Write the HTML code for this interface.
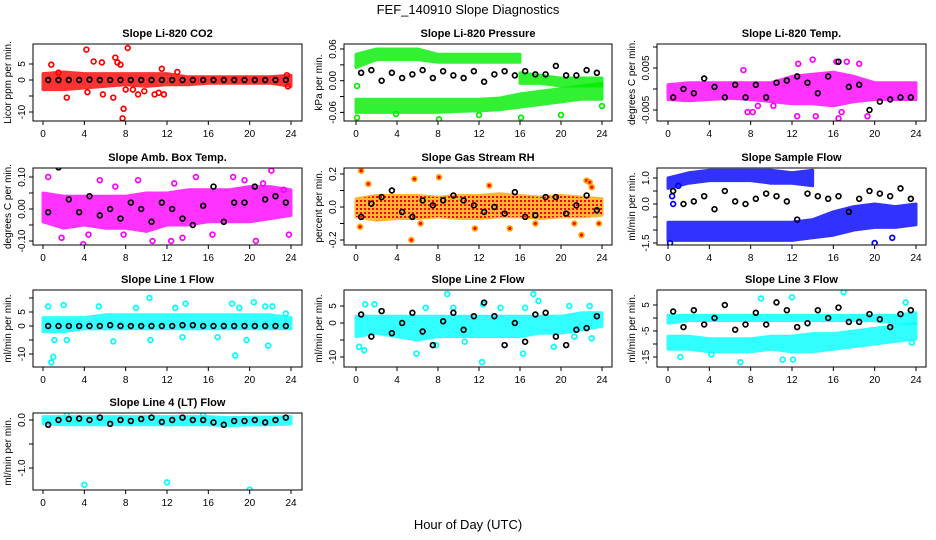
<!DOCTYPE html>
<html><head><meta charset="utf-8">
<style>
html,body{margin:0;padding:0;background:#fff;}
svg{display:block;font-family:"Liberation Sans",Arial,sans-serif;}
</style></head>
<body>
<svg id="fig" width="936" height="540" viewBox="0 0 936 540">
<text x="468" y="14" text-anchor="middle" font-size="13">FEF_140910  Slope Diagnostics</text>
<text x="468" y="529" text-anchor="middle" font-size="13">Hour of Day (UTC)</text>
</svg>
<script>
// ---- shared data ----
const bandHours = [0,2,4,6,8,10,12,14,16,18,20,22,24];
const blkHours = [0.5,1.5,2.5,3.5,4.5,5.5,6.5,7.5,8.5,9.5,10.5,11.5,12.5,13.5,14.5,15.5,16.5,17.5,18.5,19.5,20.5,21.5,22.5,23.5];
const xTicks = [0,4,8,12,16,20,24];

// Panel 1: CO2
const co2Lo = [-3,-3,-2.5,-2,-1.5,-2,-1.5,-1.5,-1,-1,-1,-1,-2];
const co2Hi = [2,2.5,2,2,2,2,2,1,1,1,1,1,1.5];
const co2OutH = [0.8,1.5,2.3,4.2,4.3,4.9,5.7,5.8,6.8,7,7.2,7.5,7.7,7.8,8,8.2,8.7,9.2,9.8,10.8,11.2,11.5,11.7,13,23.6,23.7];
const co2OutV = [4.8,2.3,-5.5,9.5,-3.8,5.8,5.5,-4.5,-5.5,7,5.5,4.8,-12,-9,-3,10,-3,-4.5,-3.5,-4.5,-4,3.5,-4.5,2.5,1.5,-2];
const co2Blk = [0,0,0,0,0.1,0,0,0,0,0,0,0,0,0,0,0,0,0,0,0,0,0,0,0];

// Panel 2: Pressure
const presALo = [0.025,0.04,0.04,0.04,0.035,0.035,0.035,0.035,0.035,null,null,null,null];
const presAHi = [0.05,0.06,0.06,0.06,0.05,0.05,0.05,0.05,0.05,null,null,null,null];
const presCLo = [null,null,null,null,null,null,null,null,-0.005,-0.005,-0.01,-0.01,-0.01];
const presCHi = [null,null,null,null,null,null,null,null,0.015,0.01,0.005,0.005,0.005];
const presBLo = [-0.06,-0.06,-0.06,-0.06,-0.06,-0.058,-0.057,-0.055,-0.05,-0.045,-0.04,-0.035,-0.035];
const presBHi = [-0.035,-0.035,-0.035,-0.035,-0.035,-0.035,-0.035,-0.033,-0.025,-0.02,-0.015,-0.01,-0.005];
const presOutH = [0.1,0.1,3.9,8.1,12,16.1,20,24];
const presOutV = [-0.01,-0.07,-0.063,-0.073,-0.065,-0.07,-0.065,-0.048];
const presBlk = [0.015,0.02,0.0,0.015,0.005,0.012,0.02,0.005,0.018,0.01,0.005,0.018,-0.002,0.012,0.018,0.01,0.018,0.012,0.012,0.028,0.01,0.01,0.02,0.015];

// Panel 3: Li-820 Temp
const tmpLo = [-0.0025,-0.0028,-0.0025,-0.0022,-0.0025,-0.003,-0.0035,-0.0035,-0.004,-0.003,-0.0025,-0.0025,-0.0025];
const tmpHi = [0.001,0.0015,0.0015,0.0015,0.0015,0.0015,0.003,0.0035,0.004,0.003,0.0015,0.0015,0.0015];
const tmpOutH = [7.3,7.7,8.2,8.7,10.2,12.5,12.6,14,14.3,16.3,16.5,16.8,17.3,18.5,19.3];
const tmpOutV = [0.0045,-0.0055,-0.0055,-0.004,-0.004,-0.0065,0.006,0.007,-0.0065,0.0065,-0.007,-0.0055,0.0065,0.006,-0.0065];
const tmpBlk = [-0.002,0.0,-0.001,0.0025,0.0005,-0.002,0.001,-0.002,0.001,-0.002,0.0015,0.002,0.003,0.0015,-0.001,0.003,0.0065,0.0005,0.001,-0.005,-0.003,-0.0025,-0.002,-0.002];

// Panel 4: Amb Box Temp
const ambLo = [-0.04,-0.06,-0.05,-0.06,-0.06,-0.07,-0.05,-0.05,-0.04,-0.04,-0.04,-0.03,-0.02];
const ambHi = [0.05,0.04,0.04,0.04,0.04,0.05,0.05,0.06,0.06,0.06,0.07,0.07,0.06];
const ambOutH = [0.5,1.8,3.9,4.4,5.5,7,7.8,9.2,10.6,11.3,12.4,12.7,13.5,14.8,16.4,18.4,19.5,20.6,21.3,22.1,23.3,23.8];
const ambOutV = [0.1,-0.09,-0.11,-0.08,0.09,0.07,-0.08,0.09,-0.1,-0.13,-0.1,0.08,-0.09,0.1,-0.08,0.1,0.09,-0.1,0.08,0.12,0.06,-0.08];
const ambBlk = [-0.01,0.13,0.03,-0.01,0.04,-0.02,0.0,-0.03,0.02,0.0,-0.04,0.02,0.0,-0.03,-0.05,0.01,0.07,-0.04,0.02,0.02,0.07,0.03,0.04,0.02];

// Panel 5: Gas Stream RH
const rhLo = [-0.06,-0.08,-0.07,-0.07,-0.06,-0.07,-0.07,-0.06,-0.06,-0.07,-0.06,-0.06,-0.05];
const rhHi = [0.05,0.07,0.07,0.07,0.06,0.07,0.07,0.08,0.07,0.06,0.07,0.06,0.05];
const rhOutH = [0.5,0.4,1.2,5.4,5.7,6.3,8.1,11.6,13,15,17.5,21.3,22,22.5,22.8,23,23.7];
const rhOutV = [0.22,-0.12,0.14,-0.2,0.17,-0.1,0.18,-0.13,0.13,-0.13,-0.1,-0.1,-0.17,0.16,0.15,0.12,-0.1];
const rhBlk = [-0.06,0.02,0.06,0.1,-0.03,-0.06,0.04,0.01,0.04,0.07,0.04,0.01,-0.03,0.0,-0.04,0.09,-0.06,-0.05,0.06,0.06,-0.04,0.01,0.07,-0.02];

// Panel 6: Sample Flow
const sfALo = [0.6,0.8,0.9,0.9,0.9,0.8,0.8,0.7,null,null,null,null,null];
const sfAHi = [1.0,1.2,1.3,1.3,1.3,1.3,1.2,1.3,null,null,null,null,null];
const sfBLo = [-1.4,-1.4,-1.4,-1.4,-1.4,-1.4,-1.4,-1.3,-1.2,-1.0,-0.9,-0.9,-0.8];
const sfBHi = [-0.7,-0.7,-0.7,-0.7,-0.7,-0.7,-0.7,-0.6,-0.3,-0.1,0.0,-0.1,0.0];
const sfOutH = [4,12,20,0.2,0.5,21.7,0.4,1.0];
const sfOutV = [-1.75,-1.75,-1.5,-1.5,0.0,-1.3,0.3,0.7];
const sfBlk = [0.5,0.0,0.1,0.3,-0.2,0.5,0.1,0.0,0.2,0.4,0.3,0.1,-0.6,0.4,0.3,0.2,0.3,-0.3,0.2,0.5,0.4,0.3,0.6,0.2];

// Panel 7: Line 1 Flow
const l1Lo = [-2,-2,-1,-1,-1,-1,-1,-1,-1,-1,-1,-1,-1];
const l1Hi = [3,3,3,4,4,4,4,4,4,4,4,4,3];
const l1OutH = [0.8,1,1.1,0.5,2,2.3,5.4,6.8,9,10.3,10.4,12.8,13.5,13.8,16.9,18.3,18.6,19,19.7,20.4,21.5,21.8,22.2,23.5];
const l1OutV = [-13,-11,-5,7,7.5,-5,7,-5.5,6.5,10,-5,6.5,-4,8,-4,8,-10.5,6.5,-5,8.5,7,-7,7,4.5];
const l1Blk = [0,0,0,0,0,0,0.3,0,0,0,0,0,0,0.3,0.3,0,0,0,0,0,0,0,0,0];

// Panel 8: Line 2 Flow
const l2Lo = [-4,-3,-4,-5,-4,-4,-4,-4,-4,-3,-3,-2,-1];
const l2Hi = [2,2,2,2,2,2,2,2,2,2,2,3,3];
const l2OutH = [0.3,0.8,0.9,1.8,5.9,6.8,7.8,8.9,9.5,10.6,12.3,12.4,14.1,16.3,16.5,17.3,17.8,19.3,20.8,21.3,22.8,23];
const l2OutV = [-7,-8,5.5,5.5,-9,4.5,-6.5,8.5,4.5,-5.5,-11.5,5.5,4.5,-9,4.5,8.5,6.5,-7,5,-4,5,-4.5];
const l2Blk = [2.5,-4,3.5,-3,0,3,-2.5,-6.5,0.5,3,-2,2,6,2,-6.5,0,-5.5,2.5,3,-4,-6.5,-2,-1.5,2];

// Panel 9: Line 3 Flow
const l3ALo = [-2,-1,-1,-1,-1,-1,-1,-1,-1,-1,-1,-2,-2];
const l3AHi = [1,1,1,1,1,1,1,1,1,1,1,1,2];
const l3BLo = [-12,-12,-13,-13,-13,-12,-13,-13,-12,-11,-10,-9,-8];
const l3BHi = [-7,-7,-8,-8,-8,-7,-7,-6,-6,-5,-4,-3,-2];
const l3OutH = [1.2,4.2,7,9,11.1,12,12.1,17,23,23.6];
const l3OutV = [-15,-14,-17,7.5,-16,8,-16,10,6,-9.5];
const l3Blk = [2.5,-3.5,3,-2.5,0,5,-4.5,-2.5,2,-2.5,6,3,-3.5,-2,3,0,4,-1.5,-1.5,1.5,-0.5,-3.5,1.5,3];

// Panel 10: Line 4 (LT) Flow
const l4Lo = [-0.08,-0.1,-0.1,-0.1,-0.1,-0.1,-0.1,-0.1,-0.1,-0.12,-0.1,-0.1,-0.08];
const l4Hi = [0.07,0.07,0.07,0.07,0.07,0.07,0.07,0.07,0.07,0.05,0.06,0.06,0.07];
const l4OutH = [4,12,20,2.3,15.5];
const l4OutV = [-1.35,-1.3,-1.45,0.1,0.1];
const l4Blk = [-0.1,0.0,0.02,0.03,0.0,0.05,-0.08,0.0,-0.02,0.02,0.05,-0.04,0.0,0.05,0.0,0.0,-0.05,-0.1,-0.02,-0.02,0.0,-0.05,0.0,0.05];

// ---- layout ----
const cols = [{bx0:33,bx1:302,h0:43,h24:291},{bx0:344,bx1:612,h0:356,h24:602},{bx0:657,bx1:926,h0:668,h24:916}];
const rowTops = [44,168,290,413];
const BOXH = 77;

const panels = [
 {r:0,c:0,title:"Slope Li-820 CO2",ylab:"Licor ppm per min.",color:"#ff0000",va:0,pa:80,vb:5,pb:64,ticks:[5,0,-5,-10],labels:["5","0","","-10"],bands:[[co2Lo,co2Hi]],oh:co2OutH,ov:co2OutV,blk:co2Blk},
 {r:0,c:1,title:"Slope Li-820 Pressure",ylab:"kPa per min.",color:"#00ee00",va:0,pa:80.7,vb:0.06,pb:49,ticks:[0.06,0.03,0,-0.03,-0.06],labels:["0.06","","0.00","","-0.06"],bands:[[presALo,presAHi],[presCLo,presCHi],[presBLo,presBHi]],oh:presOutH,ov:presOutV,blk:presBlk},
 {r:0,c:2,title:"Slope Li-820 Temp.",ylab:"degrees C per min.",color:"#ff00ff",va:0,pa:89,vb:0.005,pb:68,ticks:[0.01,0.005,0,-0.005],labels:["","0.005","","-0.005"],bands:[[tmpLo,tmpHi]],oh:tmpOutH,ov:tmpOutV,blk:tmpBlk},
 {r:1,c:0,title:"Slope Amb. Box Temp.",ylab:"degrees C per min.",color:"#ff00ff",va:0,pa:209,vb:0.1,pb:177,ticks:[0.1,0.05,0,-0.05,-0.1],labels:["0.10","","0.00","","-0.10"],bands:[[ambLo,ambHi]],oh:ambOutH,ov:ambOutV,blk:ambBlk},
 {r:1,c:1,title:"Slope Gas Stream RH",ylab:"percent per min.",color:"#ffa500",core:"#ff0000",va:0,pa:207,vb:0.2,pb:174,ticks:[0.2,0.1,0,-0.1,-0.2],labels:["0.2","","0.0","","-0.2"],bands:[[rhLo,rhHi]],oh:rhOutH,ov:rhOutV,blk:rhBlk},
 {r:1,c:2,title:"Slope Sample Flow",ylab:"ml/min per min.",color:"#0000ff",va:0,pa:204,vb:1,pb:178,ticks:[1,0.5,0,-0.5,-1,-1.5],labels:["1.0","","0.0","","","-1.5"],bands:[[sfALo,sfAHi],[sfBLo,sfBHi]],oh:sfOutH,ov:sfOutV,blk:sfBlk},
 {r:2,c:0,title:"Slope Line 1 Flow",ylab:"ml/min per min.",color:"#00ffff",va:0,pa:326,vb:5,pb:312,ticks:[10,5,0,-5,-10],labels:["","5","0","","-10"],bands:[[l1Lo,l1Hi]],oh:l1OutH,ov:l1OutV,blk:l1Blk},
 {r:2,c:1,title:"Slope Line 2 Flow",ylab:"ml/min per min.",color:"#00ffff",va:0,pa:323,vb:5,pb:306,ticks:[5,0,-5,-10],labels:["5","0","","-10"],bands:[[l2Lo,l2Hi]],oh:l2OutH,ov:l2OutV,blk:l2Blk},
 {r:2,c:2,title:"Slope Line 3 Flow",ylab:"ml/min per min.",color:"#00ffff",va:0,pa:318,vb:5,pb:305,ticks:[5,0,-5,-10,-15],labels:["5","","-5","","-15"],bands:[[l3ALo,l3AHi],[l3BLo,l3BHi]],oh:l3OutH,ov:l3OutV,blk:l3Blk},
 {r:3,c:0,title:"Slope Line 4 (LT) Flow",ylab:"ml/min per min.",color:"#00ffff",va:0,pa:420,vb:-1,pb:468,ticks:[0,-0.5,-1],labels:["0.0","","-1.0"],bands:[[l4Lo,l4Hi]],oh:l4OutH,ov:l4OutV,blk:l4Blk}
];

const NS = "http://www.w3.org/2000/svg";
const svg = document.getElementById("fig");
function mk(tag, attrs, parent){
  const e = document.createElementNS(NS, tag);
  for (const k in attrs) e.setAttribute(k, attrs[k]);
  (parent||svg).appendChild(e);
  return e;
}

panels.forEach((p, i) => {
  const col = cols[p.c];
  const top = rowTops[p.r], bot = top + BOXH;
  const xs = h => col.h0 + (col.h24 - col.h0) * h / 24;
  const ys = v => p.pa + (p.pb - p.pa) * (v - p.va) / (p.vb - p.va);
  const g = mk("g", {});
  
  

  const clip = mk("clipPath", {id:"clip"+i}, g);
  mk("rect", {x:col.bx0, y:top, width:col.bx1-col.bx0, height:BOXH}, clip);
  const plot = mk("g", {"clip-path":"url(#clip"+i+")"}, g);

  p.bands.forEach(b => {
    const lo = b[0], hi = b[1];
    const idx = bandHours.map((h,k)=>k).filter(k => lo[k] !== null);
    let pts = idx.map(k => xs(bandHours[k]) + "," + ys(hi[k]));
    pts = pts.concat(idx.slice().reverse().map(k => xs(bandHours[k]) + "," + ys(lo[k])));
    const poly = mk("polygon", {points:pts.join(" "), fill:p.color, stroke:p.color, "stroke-width":3, "stroke-linejoin":"round", opacity:0.8}, plot);
    
    
    if (p.core) {
      const pat = mk("pattern", {id:"pat"+i, width:4, height:4, patternUnits:"userSpaceOnUse"}, g);
      mk("rect", {x:0, y:0, width:2, height:2, fill:p.core}, pat);
      mk("polygon", {points:pts.join(" "), fill:"url(#pat"+i+")"}, plot);
    }
  });
  p.oh.forEach((h, k) => {
    const c = mk("circle", {cx:xs(h), cy:ys(p.ov[k]), r:2.4, fill:p.core?p.core:"none", stroke:p.color, "stroke-width":1.7}, plot);
    
    
  });
  p.blk.forEach((v, k) => {
    const c = mk("circle", {cx:xs(blkHours[k]), cy:ys(v), r:2.4, fill:"none", stroke:"#000", "stroke-width":1.7}, plot);
    
    
  });

  mk("rect", {x:col.bx0, y:top, width:col.bx1-col.bx0, height:BOXH, fill:"none", stroke:"#000", "stroke-width":1}, g);

  mk("line", {x1:xs(0), x2:xs(24), y1:bot, y2:bot, stroke:"#000", "stroke-width":1}, g);
  xTicks.forEach(t => {
    mk("line", {x1:xs(t), x2:xs(t), y1:bot, y2:bot+4, stroke:"#000", "stroke-width":1}, g);
    const tx = mk("text", {x:xs(t), y:bot+16, "text-anchor":"middle", "font-size":10}, g);
    tx.textContent = t;
    
    
  });
  const yT = p.ticks.map(ys);
  mk("line", {x1:col.bx0, x2:col.bx0, y1:Math.min(...yT), y2:Math.max(...yT), stroke:"#000", "stroke-width":1}, g);
  p.ticks.forEach((t, k) => {
    const y = ys(t);
    mk("line", {x1:col.bx0-4, x2:col.bx0, y1:y, y2:y, stroke:"#000", "stroke-width":1}, g);
    if (p.labels[k]) {
      const tx = mk("text", {x:col.bx0-8, y:y, "text-anchor":"middle", "font-size":10, transform:"rotate(-90 "+(col.bx0-8)+" "+y+")"}, g);
      tx.textContent = p.labels[k];
      
      
    }
  });
  const tt = mk("text", {x:(col.bx0+col.bx1)/2, y:top-7, "text-anchor":"middle", "font-size":11, "font-weight":"bold"}, g);
  tt.textContent = p.title;
  
  
  const yl = col.bx0 - 22, ym = (top+bot)/2;
  const yt = mk("text", {x:yl, y:ym, "text-anchor":"middle", "font-size":10, transform:"rotate(-90 "+yl+" "+ym+")"}, g);
  yt.textContent = p.ylab;
  
  
});
</script>
</body></html>
